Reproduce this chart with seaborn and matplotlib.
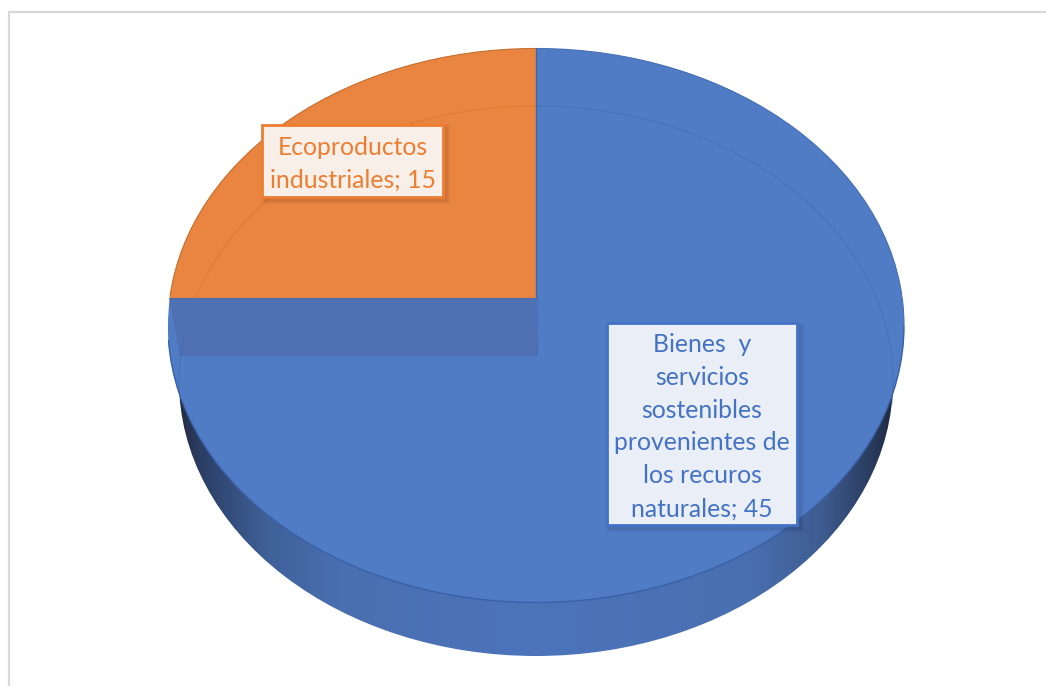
import numpy as np
import matplotlib
matplotlib.use("Agg")
import matplotlib.pyplot as plt
import seaborn as sns
from matplotlib.colors import LinearSegmentedColormap
from matplotlib.lines import Line2D
from matplotlib.patches import Arc, Ellipse, Polygon, Rectangle
from matplotlib.path import Path

# datos
categorias = ["Bienes  y\nservicios\nsostenibles\nprovenientes de\nlos recuros\nnaturales", "Ecoproductos\nindustriales"]
valores = [45, 15]
colores = ["#507cc6", "#e98540"]

sns.set_theme(style="white")
plt.rcParams["font.family"] = ["Lato", "DejaVu Sans"]

W, H = 1046, 686
CX, CY, RX, RY = 536, 325.5, 368, 277
# elipse de la base (mas estrecha, desplazada hacia abajo)
BASE_CY, BASE_RX, BASE_RY = 381, 357, 275


# pixeles de la imagen -> coordenadas del circulo unidad
def ux(x):
    return (x - CX) / RX


def uy(y):
    return (CY - y) / RY


fig = plt.figure(figsize=(W / 100, H / 100), dpi=100)
ax = fig.add_axes([0, 0, 1, 1])

# pared lateral del disco, con degradado
cmap = LinearSegmentedColormap.from_list("pared", [
    (0.0, "#232e45"), (0.03, "#2b3f66"), (0.12, "#3f6098"), (0.22, "#4a6fb0"),
    (0.5, "#4c74bb"), (0.8, "#4a6fb0"), (0.9, "#3f5d92"), (0.97, "#2b3d60"), (1.0, "#1f2b45"),
])
base = Ellipse((0, uy(BASE_CY)), 2 * BASE_RX / RX, 2 * BASE_RY / RY, transform=ax.transData,
               facecolor="none", edgecolor="none")
ax.add_patch(base)
img = ax.imshow(np.linspace(0, 1, 400).reshape(1, -1), cmap=cmap, aspect="auto", vmin=0, vmax=1,
                extent=(ux(CX - BASE_RX), ux(CX + BASE_RX), uy(BASE_CY + BASE_RY), uy(BASE_CY - BASE_RY)), zorder=0)
img.set_clip_path(base)

# tarta: el circulo unidad se deforma en elipse porque la escala no es igual
wedges, _ = ax.pie(valores, colors=sns.color_palette(colores), startangle=90, counterclock=False,
                   radius=1, frame=True, wedgeprops={"linewidth": 0})
ax.set_aspect("auto")
ax.set_xlim(ux(0), ux(W))
ax.set_ylim(uy(H), uy(0))
ax.axis("off")

# la porcion naranja queda cortada por encima de la banda (pie pone clip_on=False)
y_corte = uy(298)
wedges[1].set_clip_on(True)
wedges[1].set_clip_path(Path([(-1.1, y_corte), (0, y_corte), (0, 1.1), (-1.1, 1.1), (-1.1, y_corte)]), ax.transData)
wedges[0].set_zorder(1)
wedges[1].set_zorder(3)

# debajo de la porcion naranja tambien va azul
fondo = Ellipse((0, 0), 2, 2, facecolor=colores[0], edgecolor="none", zorder=0.5)
ax.add_patch(fondo)

banda = Polygon([(ux(169), uy(298)), (ux(536), uy(298)), (ux(537), uy(355)), (ux(180), uy(355))],
                closed=True, facecolor="#4f70b2", edgecolor="none", zorder=2)
ax.add_patch(banda)

# contorno interior tenue
w_int, h_int = 2 * BASE_RX / RX, 2 * BASE_RY / RY
ax.add_patch(Arc((0, uy(BASE_CY)), w_int, h_int, theta1=-5, theta2=90, edgecolor="#4169b3", linewidth=0.8,
                 alpha=0.6, zorder=4))
ax.add_patch(Arc((0, uy(BASE_CY)), w_int, h_int, theta1=90, theta2=162, edgecolor="#e27a34", linewidth=0.9, zorder=4))
ax.add_patch(Arc((0, uy(BASE_CY)), w_int, h_int, theta1=170, theta2=183, edgecolor="#4169b3", linewidth=0.8,
                 alpha=0.6, zorder=4))

# bordes
ax.add_patch(Arc((0, 0), 2, 2, theta1=183, theta2=360, edgecolor="#3a60a6", linewidth=1, zorder=4))
ax.add_patch(Arc((0, 0), 2, 2, theta1=0, theta2=90, edgecolor="#4a70b5", linewidth=0.8, zorder=4))
ax.add_patch(Arc((0, 0), 2, 2, theta1=90, theta2=174, edgecolor="#c8702f", linewidth=0.8, zorder=4))
ax.plot([0, 0], [y_corte, 1], color="#3f66a8", linewidth=1, zorder=5)
ax.plot([ux(170), 0], [y_corte, y_corte], color="#4a6cb0", linewidth=0.8, zorder=5)
ax.plot([ux(180), ux(537), ux(537)], [uy(355), uy(355), y_corte], color="#4a6cb0", linewidth=0.8, zorder=5)


def etiqueta(x0, y0, x1, y1, texto, fondo_color, borde):
    # sombra suave
    for d, a in [(9, 0.025), (6, 0.035), (3, 0.05)]:
        ax.add_patch(Rectangle((ux(x0 + 3 - d / 2), uy(y1 + 3 + d / 2)), (x1 - x0 + d) / RX, (y1 - y0 + d) / RY,
                               facecolor="black", edgecolor="none", alpha=a, zorder=6))
    ax.add_patch(Rectangle((ux(x0), uy(y1)), (x1 - x0) / RX, (y1 - y0) / RY,
                           facecolor=fondo_color, edgecolor=borde, linewidth=2, zorder=7))
    ax.text(ux((x0 + x1) / 2), uy((y0 + y1) / 2 + 2.5), texto, color=borde, fontsize=17.8, ha="center",
            va="center", linespacing=1.52, zorder=8)


etiqueta(262, 125, 443, 197, f"{categorias[1]}; {valores[1]}", "#f9efe9", "#ed7d31")
etiqueta(607, 323, 797, 525, f"{categorias[0]}; {valores[0]}", "#e9eef7", "#4472c4")

# marco gris de la imagen
fig.add_artist(Line2D([9 / W, 9 / W, 1], [0, 1 - 12 / H, 1 - 12 / H], color="#d9d9d9", linewidth=1.6,
                      transform=fig.transFigure))

fig.savefig("out.png", dpi=100)
